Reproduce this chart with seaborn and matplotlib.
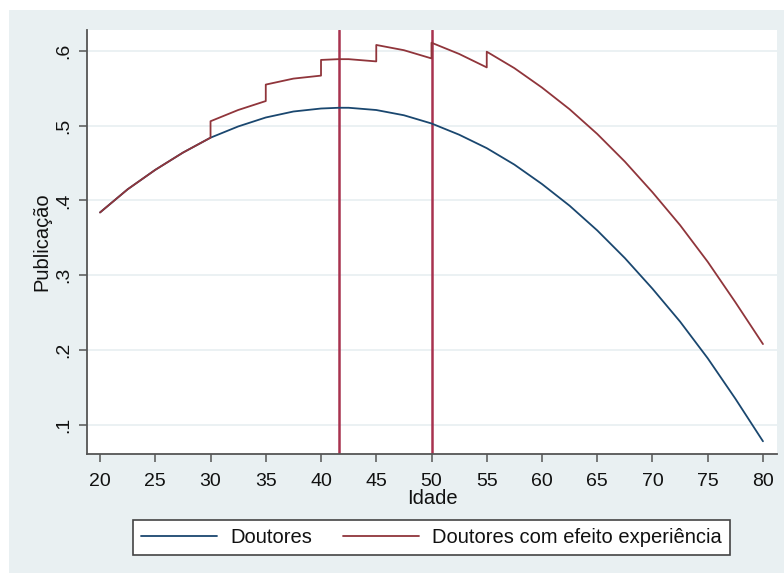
import matplotlib
matplotlib.use("Agg")
import matplotlib.pyplot as plt
import seaborn as sns
import pandas as pd
from matplotlib.patches import Rectangle

# ---- data ----
ages_blue = [20, 22.5, 25, 27.5, 30, 32.5, 35, 37.5, 40, 41.6, 42.5, 45, 47.5,
             50, 52.5, 55, 57.5, 60, 62.5, 65, 67.5, 70, 72.5, 75, 77.5, 80]
pub_blue = [0.384, 0.415, 0.441, 0.464, 0.484, 0.499, 0.511, 0.519, 0.523, 0.524,
            0.524, 0.521, 0.514, 0.503, 0.488, 0.470, 0.448, 0.422, 0.393, 0.360,
            0.323, 0.282, 0.238, 0.189, 0.135, 0.078]

ages_red = [20, 22.5, 25, 27.5, 30, 30, 32.5, 35, 35, 37.5, 40, 40, 41.6, 42.5, 45,
            45, 47.5, 50, 50, 52.5, 55, 55, 57.5, 60, 62.5, 65, 67.5, 70, 72.5,
            75, 77.5, 80]
pub_red = [0.384, 0.415, 0.441, 0.464, 0.484, 0.506, 0.521, 0.533, 0.555, 0.563,
           0.567, 0.588, 0.589, 0.589, 0.586, 0.608, 0.601, 0.590, 0.611, 0.596,
           0.578, 0.599, 0.577, 0.551, 0.522, 0.489, 0.452, 0.411, 0.367, 0.318,
           0.264, 0.208]

vlines = [41.6, 50]
xticks = [20, 25, 30, 35, 40, 45, 50, 55, 60, 65, 70, 75, 80]
yticks = [0.1, 0.2, 0.3, 0.4, 0.5, 0.6]
ytick_labels = [".1", ".2", ".3", ".4", ".5", ".6"]
labels = ["Doutores", "Doutores com efeito experiência"]

BG = "#e9f0f2"
NAVY = "#1a476f"
MAROON = "#90353b"
VLINE = "#a8324f"
AXC = "#555555"

sns.set_theme(style="white")
plt.rcParams["font.family"] = ["Liberation Sans", "DejaVu Sans"]

fig = plt.figure(figsize=(7.84, 5.73), dpi=100)
fig.patch.set_facecolor("white")
fig.add_artist(Rectangle((9 / 784, 0), 1 - 9 / 784, 1 - 10 / 573,
                         transform=fig.transFigure, facecolor=BG,
                         edgecolor="none", zorder=-10))

ax = fig.add_axes([87 / 784, 1 - 454 / 573, (777 - 87) / 784, (454 - 30) / 573])
ax.set_facecolor("white")

df_blue = pd.DataFrame({"Idade": ages_blue, "Pub": pub_blue})
df_red = pd.DataFrame({"Idade": ages_red, "Pub": pub_red})

for yv in yticks:
    ax.axhline(yv, color=BG, lw=1.3, zorder=0)
for xv in vlines:
    ax.axvline(xv, color=VLINE, lw=1.8, zorder=1)

sns.lineplot(data=df_blue, x="Idade", y="Pub", estimator=None, sort=False,
             color=NAVY, lw=1.3, ax=ax, label=labels[0], zorder=3)
sns.lineplot(data=df_red, x="Idade", y="Pub", estimator=None, sort=False,
             color=MAROON, lw=1.3, ax=ax, label=labels[1], zorder=3)

ax.set_xlim(18.82, 81.27)
ax.set_ylim(0.061, 0.628)
ax.set_xticks(xticks)
ax.set_xticklabels([str(t) for t in xticks])
ax.set_yticks(yticks)
ax.set_yticklabels(ytick_labels, rotation=90, va="center")

for s in ["top", "right"]:
    ax.spines[s].set_visible(False)
for s in ["left", "bottom"]:
    ax.spines[s].set_color(AXC)
    ax.spines[s].set_linewidth(1.3)

ax.tick_params(axis="both", direction="out", length=5.5, width=1.1, color=AXC,
               labelsize=14, labelcolor="#111111", bottom=True, left=True)
ax.tick_params(axis="x", pad=8)
ax.tick_params(axis="y", pad=5)
ax.set_xlabel("Idade", fontsize=14.5, color="#111111", labelpad=-0.5)
ax.set_ylabel("Publicação", fontsize=14.5, color="#111111", labelpad=3)

ax.get_legend().remove()
h, l = ax.get_legend_handles_labels()
leg = fig.legend(h, l, loc="center", bbox_to_anchor=(431.5 / 784, 1 - 537.5 / 573),
                 ncol=2, frameon=True, fancybox=False, fontsize=14.5,
                 handlelength=3.75, handletextpad=0.65, columnspacing=1.55,
                 borderpad=0.4)
leg.get_frame().set_edgecolor("#444444")
leg.get_frame().set_linewidth(1.2)
leg.get_frame().set_facecolor("white")
leg.get_frame().set_alpha(1)
for t in leg.get_texts():
    t.set_color("#111111")

fig.savefig("out.png", dpi=100, facecolor=fig.get_facecolor())
